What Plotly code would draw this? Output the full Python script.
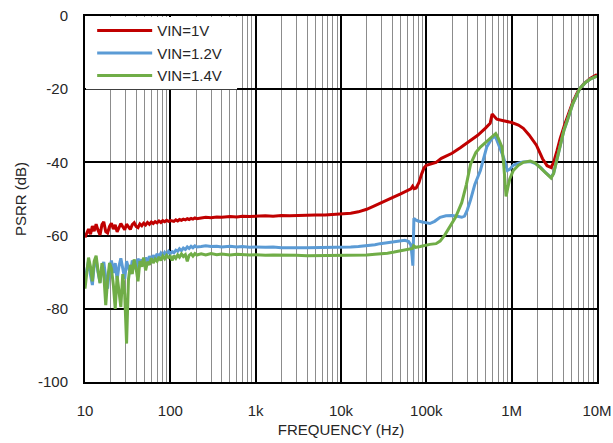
import plotly.graph_objects as go

# Low-frequency sweep points shared by all three supply voltages (Hz)
LF_HZ = [10, 10.5, 11, 11.6, 12.2, 12.8, 13.5, 14.2, 15, 15.8, 16.6, 17.5, 18.4, 19.4, 20.4,
         21.5, 22.6, 23.8, 25, 26.3, 27.7, 29.2, 30.7, 32.3, 34, 35.8, 37.7, 39.7, 41.8, 44,
         46.3, 48.7, 51.3, 54, 56.9, 59.9, 63, 66.4, 69.9, 73.6, 77.5, 81.6, 85.9, 90.4, 95.2,
         100, 105, 110, 116, 122, 128, 135, 142, 150, 158, 166, 175, 184, 194, 204]

RED_LF_DB = [-60.5, -59.0, -58.2, -59.6, -57.4, -58.8, -56.9, -58.5, -59.8, -57.0,
             -56.2, -58.9, -59.3, -57.5, -56.6, -58.2, -57.1, -59.0, -57.8, -56.7,
             -57.6, -58.4, -56.9, -57.7, -58.3, -57.0, -56.5, -57.5, -57.8, -56.8,
             -57.3, -56.6, -57.1, -56.4, -56.9, -56.3, -56.7, -56.2, -56.5, -56.0,
             -56.4, -55.9, -56.2, -55.8, -56.1, -55.9,
             -55.9, -56.1, -55.7, -56.0, -55.6, -55.8, -55.5, -55.7, -55.4, -55.6,
             -55.3, -55.5, -55.2, -55.4]

BLUE_LF_DB = [-72.0, -69.5, -67.0, -70.8, -73.5, -68.2, -66.5, -70.0, -72.8, -68.8,
              -67.2, -71.5, -74.5, -69.0, -66.8, -70.2, -67.5, -72.0, -68.4, -66.2,
              -69.5, -71.8, -67.0, -68.6, -70.5, -66.8, -67.9, -69.2, -66.3, -67.6,
              -66.5, -68.0, -66.0, -67.2, -65.6, -66.8, -65.4, -66.2, -65.0, -65.8,
              -64.8, -65.5, -64.6, -65.2, -64.3, -64.9,
              -64.4, -64.7, -64.0, -64.3, -63.6, -64.1, -63.4, -63.8, -63.1, -63.5,
              -62.9, -63.3, -62.8, -63.1]

GREEN_LF_DB = [-74.5, -70.0, -66.0, -68.5, -72.5, -67.0, -65.5, -69.5, -73.0, -67.5,
               -70.5, -79.0, -72.0, -67.5, -69.0, -73.5, -80.0, -71.0, -74.5, -79.5,
               -70.5, -76.0, -89.5, -72.0, -68.0, -70.5, -66.5, -69.0, -72.5, -67.0,
               -68.5, -66.0, -69.5, -67.2, -68.0, -66.2, -67.5, -66.4, -67.0, -65.8,
               -66.8, -65.6, -66.3, -65.4, -66.0, -65.7,
               -66.8, -65.5, -66.2, -65.3, -65.9, -65.0, -65.7, -65.2, -67.0, -65.4,
               -65.0, -65.6, -64.9, -65.3]

# Higher-frequency part of each sweep
RED_HF_HZ = [230, 260, 300, 350, 400, 500, 600, 700, 850, 1e3,
             1.3e3, 1.6e3, 2e3, 2.5e3, 3e3, 4e3, 5e3, 6.5e3, 8e3, 1e4,
             1.3e4, 1.6e4, 2e4, 2.5e4, 3e4, 3.5e4, 4e4, 5e4, 6e4, 6.6e4,
             6.9e4, 7.2e4, 7.6e4, 8.2e4, 8.8e4, 9.4e4, 1e5, 1.15e5, 1.3e5, 1.5e5,
             2e5, 2.5e5, 3.1e5, 4e5, 4.9e5, 5.6e5, 5.9e5, 6.3e5, 6.7e5, 8e5,
             1e6, 1.2e6, 1.37e6, 1.6e6, 1.95e6, 2.3e6, 2.6e6, 2.9e6, 3.1e6, 3.4e6,
             3.7e6, 4.2e6, 4.7e6, 5.2e6, 6e6, 7e6, 8.4e6, 1e7]
RED_HF_DB = [-55.2, -55.0, -55.1, -54.9, -55.0, -54.8, -54.9, -54.7, -54.8, -54.7,
             -54.6, -54.7, -54.5, -54.6, -54.5, -54.5, -54.4, -54.4, -54.3, -54.2,
             -53.9, -53.5, -52.8, -51.8, -50.9, -50.2, -49.6, -48.6, -47.7, -47.2,
             -46.5, -47.2, -47.0, -45.5, -43.2, -41.5, -40.8, -40.4, -40.0, -38.9,
             -37.5, -36.0, -34.5, -32.6, -30.7, -29.3, -26.8, -27.6, -28.2, -28.6,
             -29.1, -29.8, -30.7, -32.5, -35.3, -39.0, -40.9, -41.4, -40.0, -36.8,
             -33.5, -29.5, -26.5, -23.5, -20.5, -18.5, -17.0, -16.0]

BLUE_HF_HZ = [230, 260, 300, 350, 400, 500, 600, 700, 850, 1e3,
              1.3e3, 1.6e3, 2e3, 2.5e3, 3e3, 4e3, 5e3, 6.5e3, 8e3, 1e4,
              1.3e4, 1.6e4, 2e4, 2.5e4, 2.87e4, 3.5e4, 4.2e4, 4.9e4, 5.6e4, 6.2e4,
              6.6e4, 6.8e4, 6.95e4, 7.05e4, 7.15e4, 7.5e4, 8e4, 9e4, 1e5, 1.1e5,
              1.25e5, 1.45e5, 1.7e5, 2e5, 2.3e5, 2.6e5, 2.8e5, 3e5, 3.3e5, 3.7e5,
              4.3e5, 5.1e5, 5.6e5, 6.2e5, 6.6e5, 7.2e5, 8e5, 8.9e5, 9.5e5, 1.04e6,
              1.2e6, 1.36e6, 1.65e6, 1.9e6, 2.2e6, 2.5e6, 2.9e6, 3.1e6, 3.4e6, 3.7e6,
              4.1e6, 4.5e6, 5.2e6, 6.3e6, 7.3e6, 8.4e6, 1e7]
BLUE_HF_DB = [-63.0, -62.8, -63.0, -62.9, -63.1, -62.9, -63.1, -63.0, -63.2, -63.1,
              -63.2, -63.1, -63.3, -63.2, -63.3, -63.3, -63.3, -63.3, -63.2, -63.2,
              -63.1, -63.0, -62.8, -62.5, -62.2, -61.9, -61.6, -61.4, -61.3, -61.6,
              -62.6, -65.5, -68.2, -62.0, -55.3, -55.7, -56.0, -56.3, -56.6, -56.7,
              -56.1, -55.0, -54.6, -54.5, -54.7, -55.0, -54.7, -53.2, -50.2, -46.0,
              -42.2, -35.8, -34.2, -32.8, -33.5, -36.0, -38.5, -42.2, -41.9, -40.8,
              -40.2, -39.9, -39.8, -40.3, -41.4, -42.8, -44.1, -43.0, -39.0, -35.0,
              -31.2, -28.5, -24.0, -19.8, -18.2, -17.2, -16.4]

GREEN_HF_HZ = [230, 260, 300, 350, 400, 500, 600, 700, 850, 1e3,
               1.3e3, 1.6e3, 2e3, 2.5e3, 3e3, 4e3, 5e3, 6.5e3, 8e3, 1e4,
               1.3e4, 1.6e4, 2e4, 2.5e4, 2.87e4, 3.5e4, 4.2e4, 4.9e4, 5.6e4, 6.2e4,
               6.9e4, 7.1e4, 7.5e4, 8.5e4, 1e5, 1.1e5, 1.3e5, 1.45e5, 1.65e5, 1.9e5,
               2.2e5, 2.6e5, 2.95e5, 3.3e5, 3.8e5, 4.3e5, 5.3e5, 6e5, 6.5e5, 6.9e5,
               7.3e5, 7.7e5, 8.1e5, 8.6e5, 9e5, 9.5e5, 1.04e6, 1.2e6, 1.36e6, 1.65e6,
               1.9e6, 2.2e6, 2.5e6, 2.9e6, 3.1e6, 3.4e6, 3.7e6, 4.1e6, 4.5e6, 5.2e6,
               6.3e6, 7.3e6, 8.4e6, 1e7]
GREEN_HF_DB = [-65.0, -65.3, -64.9, -65.2, -65.0, -65.3, -65.1, -65.2, -65.3, -65.2,
               -65.4, -65.3, -65.4, -65.5, -65.4, -65.5, -65.5, -65.5, -65.4, -65.4,
               -65.4, -65.3, -65.3, -65.1, -65.0, -64.8, -64.5, -64.2, -64.0, -63.8,
               -63.5, -62.8, -63.2, -63.0, -62.6, -62.4, -62.2, -61.5, -59.8, -57.6,
               -55.0, -51.0, -46.0, -40.5, -37.3, -35.8, -34.0, -33.0, -32.1, -33.2,
               -34.5, -35.8, -41.0, -49.3, -47.0, -44.5, -42.3, -40.8, -40.0, -39.6,
               -40.2, -41.6, -43.0, -44.3, -43.0, -39.0, -35.0, -31.2, -28.5, -24.0,
               -19.8, -18.2, -17.2, -16.4]

SERIES = [
    ("VIN=1V", RED_HF_HZ, RED_LF_DB, RED_HF_DB, "#C00000"),
    ("VIN=1.2V", BLUE_HF_HZ, BLUE_LF_DB, BLUE_HF_DB, "#5B9BD5"),
    ("VIN=1.4V", GREEN_HF_HZ, GREEN_LF_DB, GREEN_HF_DB, "#70AD47"),
]

X_TICKS = [10, 100, 1e3, 1e4, 1e5, 1e6, 1e7]
X_TICK_TEXT = ["10", "100", "1k", "10k", "100k", "1M", "10M"]
Y_TICKS = [0, -20, -40, -60, -80, -100]
Y_TICK_TEXT = ["0", "-20", "-40", "-60", "-80", "-100"]

FONT = "Liberation Sans, Arial, sans-serif"
TEXT_COLOR = "#262626"

fig = go.Figure()
for name, hf_hz, lf_db, hf_db, color in SERIES:
    fig.add_trace(go.Scatter(
        x=LF_HZ + hf_hz,
        y=lf_db + hf_db,
        mode="lines",
        name=name,
        line=dict(color=color, width=3),
    ))

# White panel behind the legend, hiding the grid in the upper-left corner
fig.add_shape(
    type="rect", xref="paper", yref="paper",
    x0=0.002, x1=0.297, y0=0.80, y1=0.997,
    fillcolor="white", line=dict(width=0), layer="above",
)

fig.update_layout(
    width=613, height=443,
    margin=dict(l=85, r=16, t=16, b=61, autoexpand=False),
    paper_bgcolor="white",
    plot_bgcolor="white",
    font=dict(family=FONT, size=14, color=TEXT_COLOR),
    showlegend=True,
    legend=dict(
        x=0.014, y=1.005, xanchor="left", yanchor="top",
        bgcolor="rgba(0,0,0,0)", borderwidth=0,
        font=dict(family=FONT, size=15, color=TEXT_COLOR),
        itemwidth=55, tracegroupgap=0,
    ),
)

fig.update_xaxes(
    type="log",
    range=[1, 7],
    tickvals=X_TICKS,
    ticktext=X_TICK_TEXT,
    ticks="",
    ticklabelstandoff=14,
    automargin=False,
    showgrid=True, gridcolor="#000000", gridwidth=1.6,
    minor=dict(dtick="D1", showgrid=True, gridcolor="#8c8c8c", gridwidth=1.4, ticks=""),
    showline=True, linecolor="#000000", linewidth=2, mirror=True,
    zeroline=False,
    title=dict(text="FREQUENCY (Hz)", standoff=6, font=dict(family=FONT, size=15, color=TEXT_COLOR)),
    tickfont=dict(family=FONT, size=15, color=TEXT_COLOR),
)

fig.update_yaxes(
    range=[-100, 0],
    tickvals=Y_TICKS,
    ticktext=Y_TICK_TEXT,
    ticks="",
    ticklabelstandoff=12,
    automargin=False,
    showgrid=True, gridcolor="#000000", gridwidth=1.6,
    showline=True, linecolor="#000000", linewidth=2, mirror=True,
    zeroline=False,
    title=dict(text="PSRR (dB)", standoff=8, font=dict(family=FONT, size=15, color=TEXT_COLOR)),
    tickfont=dict(family=FONT, size=15, color=TEXT_COLOR),
)

fig.write_html("out.html")
